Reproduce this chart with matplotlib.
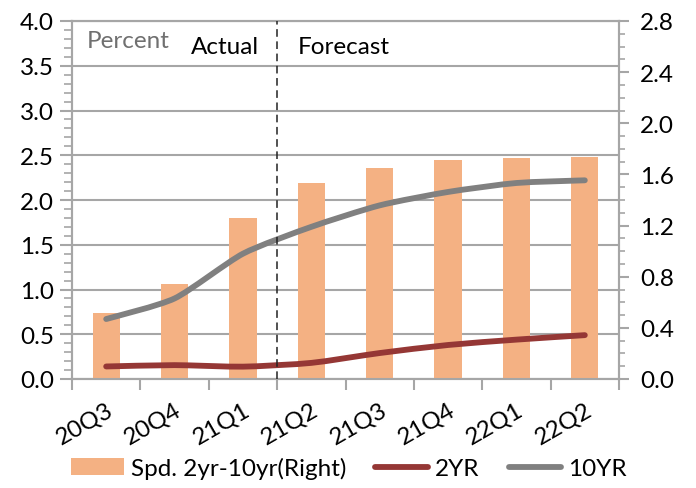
import numpy as np
import matplotlib
matplotlib.use("Agg")
import matplotlib.pyplot as plt
from matplotlib.path import Path
from matplotlib.patches import PathPatch, Patch
from matplotlib.lines import Line2D

plt.rcParams['font.family'] = ['Lato', 'DejaVu Sans']

quarters = ['20Q3', '20Q4', '21Q1', '21Q2', '21Q3', '21Q4', '22Q1', '22Q2']
spread = [0.52, 0.74, 1.26, 1.53, 1.65, 1.71, 1.73, 1.735]   # right axis
yr2 = [0.14, 0.155, 0.138, 0.18, 0.29, 0.38, 0.44, 0.49]
yr10 = [0.67, 0.90, 1.40, 1.70, 1.94, 2.09, 2.19, 2.22]

BAR = '#F4B183'
RED = '#953735'
GRAY = '#808080'
AXC = '#A6A6A6'
FS = 17.5


def smooth_path(x, y, k=9.0):
    # catmull-rom style curve through the points, as cubic bezier segments
    p = np.column_stack([x, y]).astype(float)
    pp = np.vstack([p[0], p, p[-1]])
    verts = [p[0]]
    codes = [Path.MOVETO]
    for i in range(len(p) - 1):
        p0, p1, p2, p3 = pp[i], pp[i + 1], pp[i + 2], pp[i + 3]
        verts += [p1 + (p2 - p0) / k, p2 - (p3 - p1) / k, p2]
        codes += [Path.CURVE4] * 3
    return Path(verts, codes)


fig = plt.figure(figsize=(6.96, 4.89), dpi=100)
ax = fig.add_axes([72 / 696, 109 / 489, 547 / 696, 358 / 489])
ax2 = ax.twinx()

x = np.arange(len(quarters))

ax.set_ylim(0, 4.0)
ax.set_yticks(np.arange(0, 4.01, 0.5))
ax.set_yticks(np.arange(0, 4.01, 0.1), minor=True)
ax.set_yticklabels([f'{v:.1f}' for v in np.arange(0, 4.01, 0.5)])
ax.yaxis.grid(True, color=AXC, linewidth=1.5)
ax.set_axisbelow(True)

ax2.set_ylim(0, 2.8)
ax2.set_yticks(np.arange(0, 2.81, 0.4))
ax2.set_yticks(np.arange(0, 2.81, 0.1), minor=True)
ax2.set_yticklabels([f'{v:.1f}' for v in np.arange(0, 2.81, 0.4)])
ax2.bar(x, spread, width=0.4, color=BAR, zorder=2)

ax.set_xlim(-0.5, len(quarters) - 0.5)
ax.set_xticks(x)
ax.set_xticklabels(quarters, rotation=30, ha='right', rotation_mode='anchor')
ax.set_xticks(np.arange(-0.5, len(quarters), 1.0), minor=True)

for a in (ax, ax2):
    for s in a.spines.values():
        s.set_color(AXC)
        s.set_linewidth(1.5)
ax.tick_params(axis='y', which='major', length=9, width=1.5, color=AXC,
               labelsize=FS, pad=4)
ax.tick_params(axis='y', which='minor', length=6, width=1.2, color=AXC)
ax2.tick_params(axis='y', which='major', length=7, width=1.5, color=AXC,
                labelsize=FS, pad=8)
ax2.tick_params(axis='y', which='minor', length=4, width=1.2, color=AXC)
ax.tick_params(axis='x', which='major', length=0, labelsize=FS, pad=14)
ax.tick_params(axis='x', which='minor', length=8, width=1.5, color=AXC)
ax2.tick_params(axis='x', which='both', length=0)

# lines go on the upper axes but use the left-axis scale
for vals, col in ((yr2, RED), (yr10, GRAY)):
    ax2.add_patch(PathPatch(smooth_path(x, vals), facecolor='none',
                            edgecolor=col, linewidth=4.2, capstyle='round',
                            transform=ax.transData, zorder=3))

ax2.plot([2.5, 2.5], [0, 2.8], color='#222222', linewidth=1.1,
         linestyle=(0, (5, 3)), zorder=4)

ax2.text(-0.28, 2.6, 'Percent', color='#707070', fontsize=FS)
ax2.text(2.24, 2.55, 'Actual', color='black', fontsize=FS, ha='right')
ax2.text(2.8, 2.55, 'Forecast', color='black', fontsize=FS)

handles = [Patch(facecolor=BAR, edgecolor='none'),
           Line2D([], [], color=RED, linewidth=4.2, solid_capstyle='round'),
           Line2D([], [], color=GRAY, linewidth=4.2, solid_capstyle='round')]
fig.legend(handles, ['Spd. 2yr-10yr(Right)', '2YR', '10YR'], loc='center',
           bbox_to_anchor=(349 / 696, 20 / 489), ncol=3, frameon=False,
           fontsize=FS, handlelength=2.15, handletextpad=0.3, columnspacing=1.2)

fig.savefig('out.png', dpi=100)
